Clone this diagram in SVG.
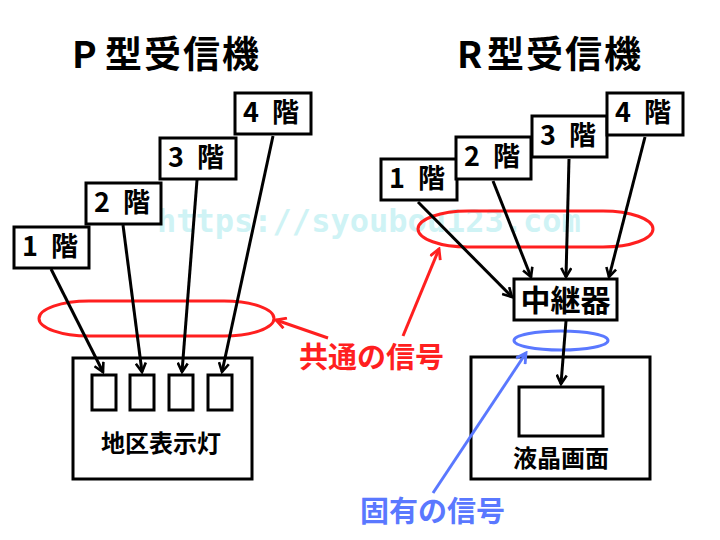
<svg xmlns="http://www.w3.org/2000/svg" width="720" height="540" viewBox="0 0 720 540">
<defs>
<style>
.t{font-family:"Noto Sans CJK JP","Noto Sans",sans-serif;font-weight:bold}
.c{text-anchor:middle}
.title{font-size:37px;fill:#000;letter-spacing:2px}
.fl{font-size:27px;fill:#000}
.lb{font-size:24px;fill:#000;text-anchor:middle}
.box{fill:#fff;stroke:#000;stroke-width:3}
.ln{stroke:#000;stroke-width:3;fill:none}
.red{stroke:#ff1f1f;stroke-width:3;fill:none}
.blue{stroke:#5a78ff;stroke-width:3;fill:none}
.wm{font-family:"DejaVu Sans Mono",monospace;font-weight:bold;font-size:32px;fill:#cff3f5}
</style>
<marker id="ab" viewBox="0 0 12 12" refX="10" refY="6" markerWidth="12" markerHeight="12" markerUnits="userSpaceOnUse" orient="auto"><path d="M1,1 L10,6 L1,11" fill="none" stroke="#000" stroke-width="2.6"/></marker>
<marker id="ar" viewBox="0 0 12 12" refX="10" refY="6" markerWidth="13" markerHeight="13" markerUnits="userSpaceOnUse" orient="auto"><path d="M1,1 L10,6 L1,11" fill="none" stroke="#ff1f1f" stroke-width="2.6"/></marker>
<marker id="abl" viewBox="0 0 12 12" refX="10" refY="6" markerWidth="13" markerHeight="13" markerUnits="userSpaceOnUse" orient="auto"><path d="M1,1 L10,6 L1,11" fill="none" stroke="#5a78ff" stroke-width="2.6"/></marker>
</defs>
<rect width="720" height="540" fill="#fff"/>
<text class="wm" x="157" y="232">https://syoubou123.com</text>

<g id="title-p"><text class="t title" y="68"><tspan x="72">P</tspan><tspan x="105">型受信機</tspan></text></g>
<g id="title-r"><text class="t title" y="68"><tspan x="457">R</tspan><tspan x="487">型受信機</tspan></text></g>

<g id="p-1f"><rect class="box" x="14" y="227" width="75" height="41"/><text class="t fl" y="256"><tspan x="22">1</tspan><tspan x="51">階</tspan></text></g>
<g id="p-2f"><rect class="box" x="86" y="183" width="75" height="41"/><text class="t fl" y="212"><tspan x="94">2</tspan><tspan x="123">階</tspan></text></g>
<g id="p-3f"><rect class="box" x="160" y="138" width="76" height="41"/><text class="t fl" y="167"><tspan x="168">3</tspan><tspan x="197">階</tspan></text></g>
<g id="p-4f"><rect class="box" x="235" y="93" width="76" height="41"/><text class="t fl" y="122"><tspan x="243">4</tspan><tspan x="272">階</tspan></text></g>

<g id="p-display">
<rect class="box" x="73" y="358" width="179" height="121"/>
<rect class="box" x="92" y="375" width="24" height="35"/>
<rect class="box" x="130" y="375" width="24" height="35"/>
<rect class="box" x="169" y="375" width="24" height="35"/>
<rect class="box" x="208" y="375" width="24" height="35"/>
<text class="t lb" x="161" y="452">地区表示灯</text>
</g>

<g id="r-1f"><rect class="box" x="381" y="159" width="76" height="41"/><text class="t fl" y="188"><tspan x="389">1</tspan><tspan x="418">階</tspan></text></g>
<g id="r-2f"><rect class="box" x="456" y="137" width="75" height="42"/><text class="t fl" y="166"><tspan x="464">2</tspan><tspan x="493">階</tspan></text></g>
<g id="r-3f"><rect class="box" x="532" y="116" width="75" height="41"/><text class="t fl" y="145"><tspan x="540">3</tspan><tspan x="569">階</tspan></text></g>
<g id="r-4f"><rect class="box" x="607" y="93" width="76" height="42"/><text class="t fl" y="122"><tspan x="615">4</tspan><tspan x="644">階</tspan></text></g>

<g id="relay"><rect class="box" x="514" y="279" width="103" height="41"/><text class="t c" style="font-size:30px" x="565.5" y="311">中継器</text></g>

<g id="r-display">
<rect class="box" x="471" y="357" width="179" height="122"/>
<rect class="box" x="519" y="387" width="84" height="49"/>
<text class="t lb" x="561" y="467">液晶画面</text>
</g>

<g id="p-common"><rect class="red" x="39" y="301" width="235" height="35" rx="50" ry="17.5"/></g>
<g id="r-common"><rect class="red" x="418" y="211" width="235" height="36" rx="50" ry="18"/></g>
<g id="r-unique"><ellipse class="blue" cx="561" cy="340.5" rx="47" ry="9.5"/></g>

<g id="connectors">
<line class="ln" x1="51" y1="269" x2="103" y2="372" marker-end="url(#ab)"/>
<line class="ln" x1="123" y1="225" x2="142" y2="372" marker-end="url(#ab)"/>
<line class="ln" x1="197" y1="180" x2="182" y2="372" marker-end="url(#ab)"/>
<line class="ln" x1="273" y1="136" x2="222" y2="372" marker-end="url(#ab)"/>
<line class="ln" x1="418" y1="202" x2="512" y2="297" marker-end="url(#ab)"/>
<line class="ln" x1="493" y1="181" x2="531" y2="277" marker-end="url(#ab)"/>
<line class="ln" x1="569" y1="159" x2="566" y2="277" marker-end="url(#ab)"/>
<line class="ln" x1="645" y1="137" x2="609" y2="277" marker-end="url(#ab)"/>
<line class="ln" x1="566" y1="321" x2="561" y2="384" marker-end="url(#ab)"/>
<line class="red" x1="328" y1="338" x2="276" y2="320" marker-end="url(#ar)"/>
<line class="red" x1="403" y1="336" x2="439" y2="249" marker-end="url(#ar)"/>
<line class="blue" x1="433" y1="493" x2="526" y2="353" marker-end="url(#abl)"/>
</g>

<g id="label-common"><text class="t c" style="font-size:29px;fill:#ff1f1f" x="371.5" y="368">共通の信号</text></g>
<g id="label-unique"><text class="t c" style="font-size:29px;fill:#5a78ff" x="432.5" y="522">固有の信号</text></g>
</svg>
